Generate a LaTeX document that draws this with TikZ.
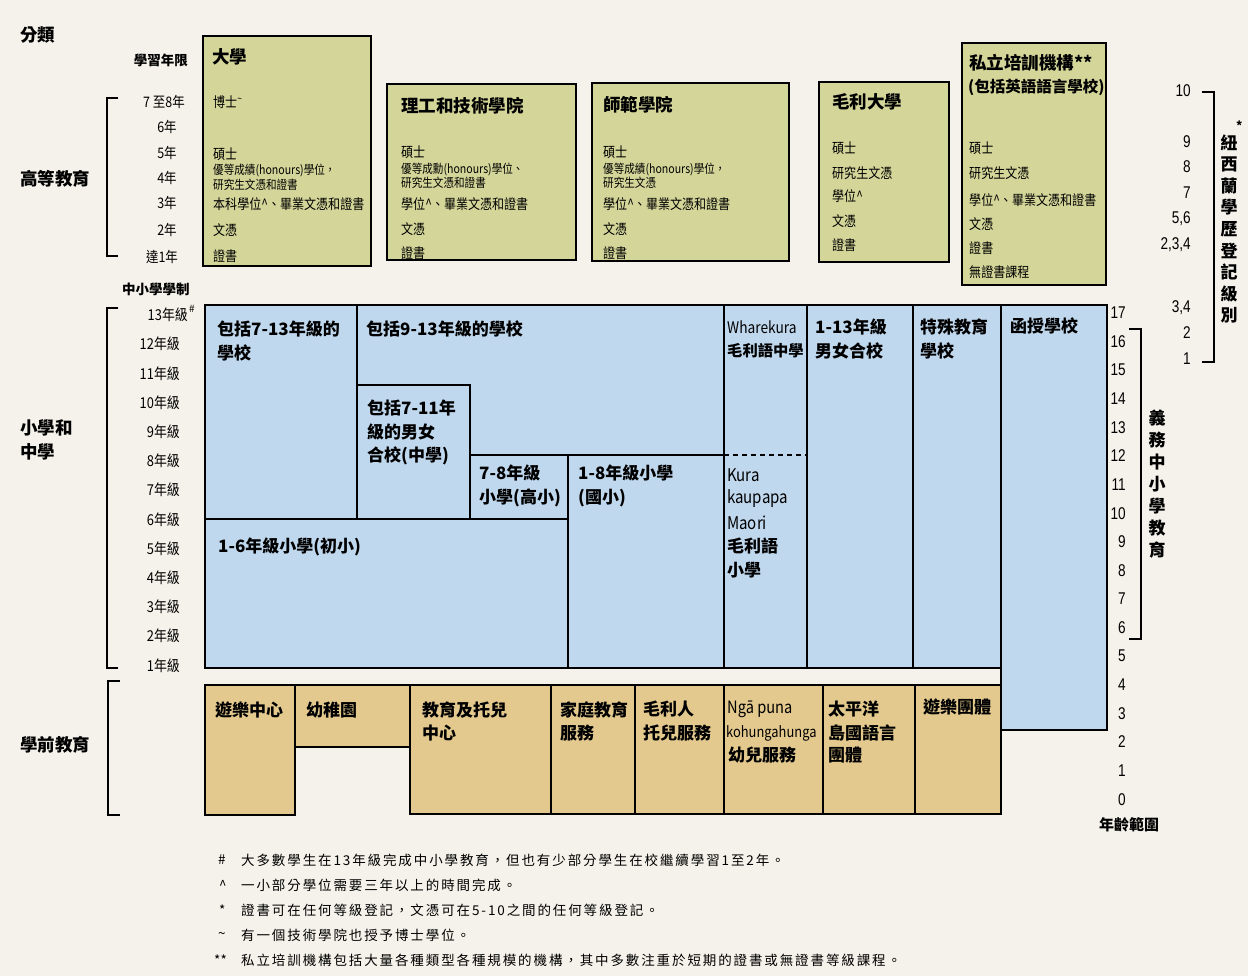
\documentclass[tikz,border=0pt]{standalone}
\usepackage{fontspec}
\setmainfont{Liberation Sans}
\newfontfamily\cjk{Noto Sans CJK TC}
\newfontfamily\cjkn[FakeStretch=0.86]{Noto Sans CJK TC}
\newfontfamily\cjkls[LetterSpace=14]{Noto Sans CJK TC}
\newfontfamily\nar[FakeStretch=0.8]{Liberation Sans}
\definecolor{bg}{HTML}{F4F2EA}
\definecolor{grn}{HTML}{D4D699}
\definecolor{blu}{HTML}{C0D8EE}
\definecolor{tan}{HTML}{E3C98E}
\tikzset{
  frame/.style={draw=black, line width=1.5pt},
  brk/.style={draw=black, line width=1.3pt},
  lbl/.style={inner sep=0pt, anchor=west},
  itm/.style={lbl, font=\cjkn\fontsize{14}{16}\selectfont},
  itms/.style={lbl, font=\cjkn\fontsize{12.3}{14}\selectfont},
  gtitle/.style={lbl, font=\cjk\bfseries\fontsize{17.5}{20}\selectfont},
  big/.style={lbl, font=\cjk\bfseries\fontsize{17}{20}\selectfont},
  bigr/.style={lbl, font=\cjkn\fontsize{17.5}{20}\selectfont},
  head/.style={lbl, font=\cjk\bfseries\fontsize{17.5}{20}\selectfont},
  sub/.style={lbl, font=\cjk\bfseries\fontsize{13.5}{15}\selectfont},
  yr/.style={inner sep=0pt, anchor=center, font=\cjkn\fontsize{14.5}{16}\selectfont},
  grd/.style={inner sep=0pt, anchor=east, font=\cjkn\fontsize{15}{17}\selectfont},
  num/.style={inner sep=0pt, anchor=east, font=\nar\fontsize{17}{19}\selectfont},
  vch/.style={inner sep=0pt, anchor=center, font=\cjk\bfseries\fontsize{17}{20}\selectfont},
  note/.style={lbl, font=\cjkls\fontsize{13.5}{15}\selectfont},
  notesym/.style={lbl, font=\cjk\fontsize{13.5}{15}\selectfont},
}
\begin{document}
\begin{tikzpicture}[x=1pt,y=-1pt]
\fill[bg] (0,0) rectangle (1248,976);
\useasboundingbox (0,0) rectangle (1248,976);

% ---------- left headings ----------
\node[head] (fenlei) at (20,35) {分類};
\node[head] (gaodeng) at (20,179) {高等教育};
\node[head] (xx1) at (20,428) {小學和};
\node[head] (xx2) at (20,452) {中學};
\node[head] (xueqian) at (20,745) {學前教育};
\node[sub, anchor=east] (nianxian) at (188,60) {學習年限};
\node[sub] (xuezhi) at (122,289) {中小學學制};

% brackets
\draw[brk] (118,98) -- (107,98) -- (107,256) -- (118,256);
\draw[brk] (118,308) -- (107,308) -- (107,668) -- (118,668);
\draw[brk] (120,681) -- (108,681) -- (108,815) -- (120,815);
\draw[brk] (1129,329) -- (1141,329) -- (1141,639) -- (1129,639);
\draw[brk] (1202,92) -- (1214,92) -- (1214,362) -- (1202,362);

% years of study
\node[yr] (y8) at (164,102) {7 至8年};
\node[yr] (y6) at (167,127) {6年};
\node[yr] (y5) at (167,153) {5年};
\node[yr] (y4) at (167,178) {4年};
\node[yr] (y3) at (167,203) {3年};
\node[yr] (y2) at (167,230) {2年};
\node[yr] (y1) at (162,257) {達1年};

% grades
\node[grd] (g13) at (188,315) {13年級};
\node[lbl, font=\cjk\fontsize{10}{12}\selectfont] (hashg) at (189,309) {\#};
\foreach \g in {12,11,...,1}
  \node[grd] (g\g) at (180,{315+29.2*(13-\g)}) {{\g}年級};

% ---------- tertiary boxes ----------
\path[frame, fill=grn] (203,36) rectangle (371,266);
\node[gtitle] (uni) at (212,57) {大學};
\node[itm] (u1) at (213,102) {博士\textsuperscript{\textasciitilde}};
\node[itm] (u2) at (213,154) {碩士};
\node[itms] (u3) at (213,170) {優等成績(honours)學位，};
\node[itms] (u4) at (213,185) {研究生文憑和證書};
\node[itm] (u5) at (213,204) {本科學位\textasciicircum、畢業文憑和證書};
\node[itm] (u6) at (213,230) {文憑};
\node[itm] (u7) at (213,256) {證書};

\path[frame, fill=grn] (387,84) rectangle (576,260);
\node[gtitle] (poly) at (401,106) {理工和技術學院};
\node[itm] (p1) at (401,152) {碩士};
\node[itms] (p2) at (401,169) {優等成勳(honours)學位、};
\node[itms] (p3) at (401,183) {研究生文憑和證書};
\node[itm] (p4) at (401,204) {學位\textasciicircum、畢業文憑和證書};
\node[itm] (p5) at (401,229) {文憑};
\node[itm] (p6) at (401,253) {證書};

\path[frame, fill=grn] (592,83) rectangle (789,261);
\node[gtitle] (teach) at (603,105) {師範學院};
\node[itm] (t1) at (603,152) {碩士};
\node[itms] (t2) at (603,169) {優等成績(honours)學位，};
\node[itms] (t3) at (603,183) {研究生文憑};
\node[itm] (t4) at (603,204) {學位\textasciicircum、畢業文憑和證書};
\node[itm] (t5) at (603,229) {文憑};
\node[itm] (t6) at (603,253) {證書};

\path[frame, fill=grn] (819,82) rectangle (949,262);
\node[gtitle] (wana) at (832,102) {毛利大學};
\node[itm] (w1) at (832,148) {碩士};
\node[itm] (w2) at (832,173) {研究生文憑};
\node[itm] (w3) at (832,196) {學位\textasciicircum};
\node[itm] (w4) at (832,221) {文憑};
\node[itm] (w5) at (832,245) {證書};

\path[frame, fill=grn] (962,43) rectangle (1106,285);
\node[gtitle] (pte1) at (969,63) {私立培訓機構**};
\node[lbl, font=\cjk\bfseries\fontsize{15.5}{18}\selectfont] (pte2) at (968,87) {(包括英語語言學校)};
\node[itm] (r1) at (969,148) {碩士};
\node[itm] (r2) at (969,173) {研究生文憑};
\node[itm] (r3) at (969,200) {學位\textasciicircum、畢業文憑和證書};
\node[itm] (r4) at (969,224) {文憑};
\node[itm] (r5) at (969,248) {證書};
\node[itm] (r6) at (969,272) {無證書課程};

% NZQF levels
\node[num] (l10) at (1191,91) {10};
\node[num] (l9) at (1191,142) {9};
\node[num] (l8) at (1191,167) {8};
\node[num] (l7) at (1191,193) {7};
\node[num] (l56) at (1191,219) {5,6};
\node[num] (l234) at (1191,245) {2,3,4};
\node[num] (l34) at (1191,308) {3,4};
\node[num] (l2) at (1191,333) {2};
\node[num] (l1) at (1191,359) {1};
\foreach \c [count=\i from 0] in {紐,西,蘭,學,歷,登,記,級,別}
  \node[vch] (nz\i) at (1229,{143+21.5*\i}) {\c};
\node[lbl, font=\cjk\bfseries\fontsize{12}{14}\selectfont] (nzstar) at (1236,126) {*};

% ---------- school sector (blue) ----------
\fill[blu] (205,305) -- (1107,305) -- (1107,730) -- (1001,730) -- (1001,668) -- (205,668) -- cycle;
\draw[frame] (205,305) -- (1107,305) -- (1107,730) -- (1001,730) -- (1001,668) -- (205,668) -- cycle;
\draw[frame] (357,305) -- (357,519);
\draw[frame] (357,385) -- (470,385) -- (470,519);
\draw[frame] (470,455) -- (724,455);
\draw[frame, dashed, dash pattern=on 5pt off 4pt] (724,455) -- (807,455);
\draw[frame] (205,519) -- (568,519);
\draw[frame] (568,455) -- (568,668);
\draw[frame] (724,305) -- (724,668);
\draw[frame] (807,305) -- (807,668);
\draw[frame] (913,305) -- (913,668);
\draw[frame] (1001,305) -- (1001,668);

\node[big] (s1a) at (217,329) {包括7-13年級的};
\node[big] (s1b) at (217,353) {學校};
\node[big] (s2) at (366,329) {包括9-13年級的學校};
\node[big] (s3a) at (367,408) {包括7-11年};
\node[big] (s3b) at (367,432) {級的男女};
\node[big] (s3c) at (367,456) {合校(中學)};
\node[big] (s4a) at (479,473) {7-8年級};
\node[big] (s4b) at (479,498) {小學(高小)};
\node[big] (s5a) at (578,473) {1-8年級小學};
\node[big] (s5b) at (578,498) {(國小)};
\node[big] (s6) at (218,547) {1-6年級小學(初小)};
\node[lbl, font=\cjkn\fontsize{16}{18}\selectfont] (s7a) at (727,327) {Wharekura};
\node[lbl, font=\cjk\bfseries\fontsize{15.3}{17}\selectfont] (s7b) at (727,351) {毛利語中學};
\node[bigr] (s8a) at (727,475) {Kura};
\node[bigr] (s8b) at (727,499) {kaupapa};
\node[bigr] (s8c) at (727,523) {Maori};
\node[big] (s8d) at (727,546) {毛利語};
\node[big] (s8e) at (727,570) {小學};
\node[big] (s9a) at (815,327) {1-13年級};
\node[big] (s9b) at (815,351) {男女合校};
\node[big] (s10a) at (920,327) {特殊教育};
\node[big] (s10b) at (920,351) {學校};
\node[big] (s11) at (1010,326) {函授學校};

% ages
\foreach \a in {17,16,...,0}
  \node[num] (age\a) at (1126,{313+28.6*(17-\a)}) {\a};
\node[lbl, font=\cjk\bfseries\fontsize{15}{17}\selectfont] (agelbl) at (1099,825) {年齡範圍};
\foreach \c [count=\i from 0] in {義,務,中,小,學,教,育}
  \node[vch] (cm\i) at (1157,{418+22*\i}) {\c};

% ---------- early childhood (tan) ----------
\path[frame, fill=tan] (205,685) rectangle (295,815);
\path[frame, fill=tan] (295,685) rectangle (410,747);
\path[frame, fill=tan] (410,685) rectangle (551,814);
\path[frame, fill=tan] (551,685) rectangle (635,814);
\path[frame, fill=tan] (635,685) rectangle (724,814);
\path[frame, fill=tan] (724,685) rectangle (823,814);
\path[frame, fill=tan] (823,685) rectangle (915,814);
\path[frame, fill=tan] (915,685) rectangle (1001,814);

\node[big] (e1) at (215,710) {遊樂中心};
\node[big] (e2) at (306,710) {幼稚園};
\node[big] (e3a) at (422,710) {教育及托兒};
\node[big] (e3b) at (422,733) {中心};
\node[big] (e4a) at (560,710) {家庭教育};
\node[big] (e4b) at (560,733) {服務};
\node[big] (e5a) at (643,709) {毛利人};
\node[big] (e5b) at (643,733) {托兒服務};
\node[lbl, font=\cjkn\fontsize{17}{19}\selectfont] (e6a) at (727,709) {Ngā puna};
\node[lbl, font=\cjkn\fontsize{15}{17}\selectfont] (e6b) at (726,733) {kohungahunga};
\node[big] (e6c) at (728,755) {幼兒服務};
\node[big] (e7a) at (828,709) {太平洋};
\node[big] (e7b) at (828,733) {島國語言};
\node[big] (e7c) at (828,755) {團體};
\node[big] (e8) at (923,707) {遊樂團體};

% ---------- footnotes ----------
\node[notesym] (f1s) at (218,860) {\#};
\node[note] (f1) at (241,860) {大多數學生在13年級完成中小學教育，但也有少部分學生在校繼續學習1至2年。};
\node[notesym] (f2s) at (219,885) {\textasciicircum};
\node[note] (f2) at (241,885) {一小部分學位需要三年以上的時間完成。};
\node[notesym] (f3s) at (219,910) {*};
\node[note] (f3) at (241,910) {證書可在任何等級登記，文憑可在5-10之間的任何等級登記。};
\node[notesym] (f4s) at (218,935) {\textasciitilde};
\node[note] (f4) at (241,935) {有一個技術學院也授予博士學位。};
\node[notesym] (f5s) at (214,960) {**};
\node[note] (f5) at (241,960) {私立培訓機構包括大量各種類型各種規模的機構，其中多數注重於短期的證書或無證書等級課程。};
\end{tikzpicture}
\end{document}
